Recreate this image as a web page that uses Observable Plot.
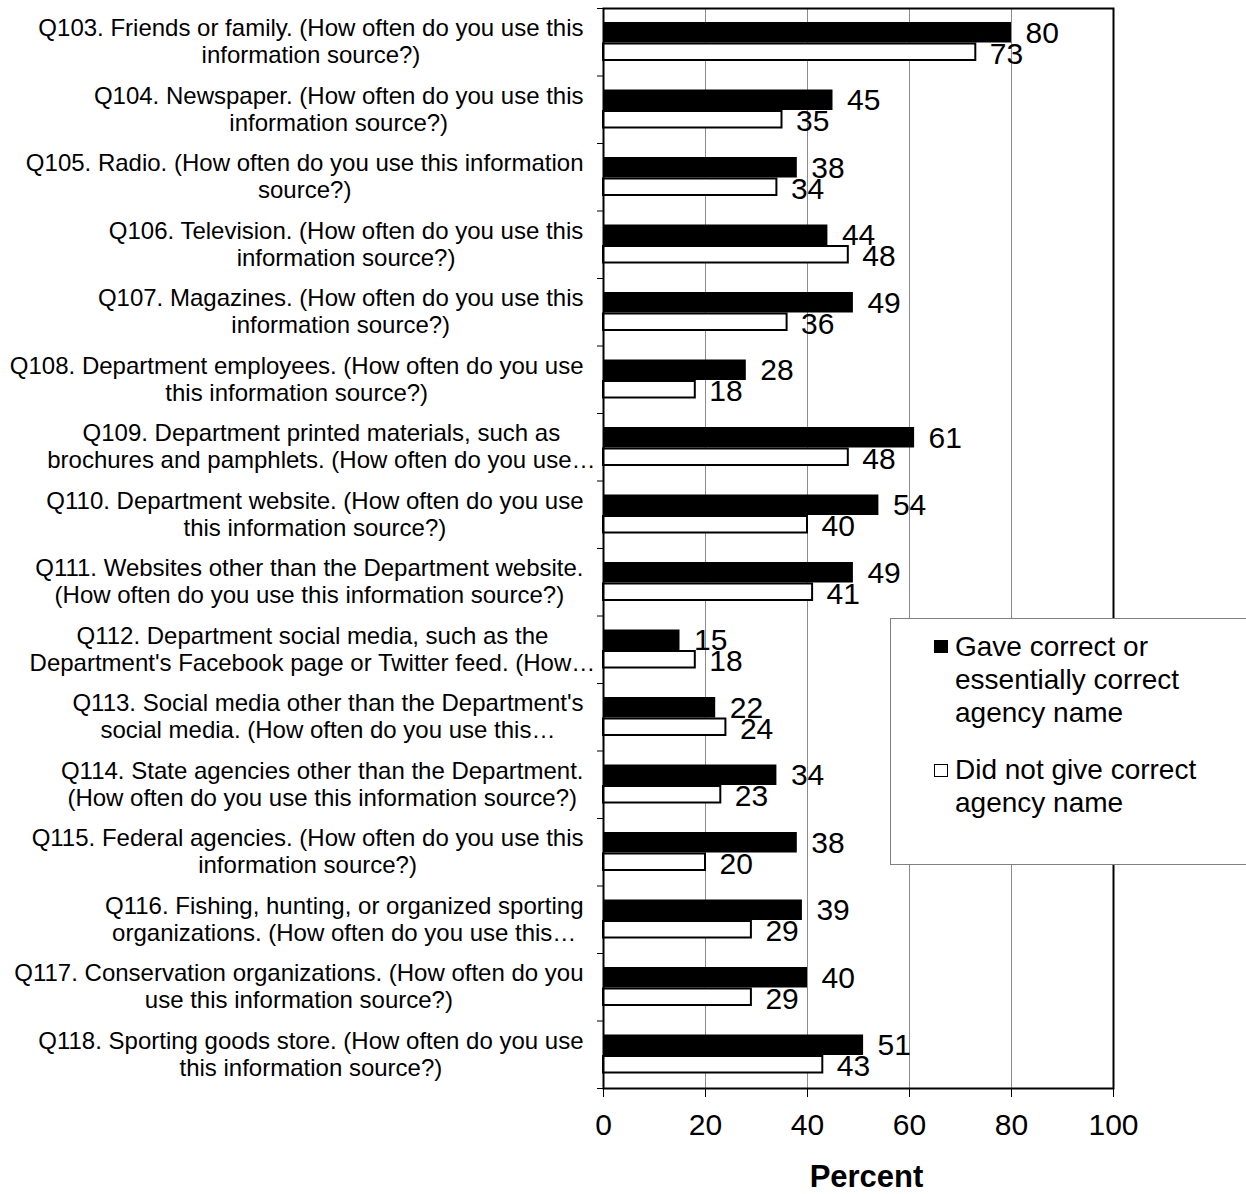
<!DOCTYPE html>
<html><head><meta charset="utf-8">
<script src="https://cdn.jsdelivr.net/npm/d3@7"></script>
<script src="https://cdn.jsdelivr.net/npm/@observablehq/plot@0.6"></script>
<style>
html,body{margin:0;padding:0;background:#fff;overflow:hidden}
#wrap{position:relative;width:1246px;height:1194px}
#legend{position:absolute;left:890px;top:618px;width:380px;height:247px;border:1px solid #7f7f7f;background:#fff;font-family:"Liberation Sans",Arial,sans-serif;font-size:28px;line-height:33px;color:#000;box-sizing:border-box}
.item{position:absolute;left:64px;width:262px}
.sw{position:absolute;left:-21px;top:10px;width:14px;height:13px;box-sizing:border-box}
</style></head><body><div id="wrap"></div>
<script>
const questions = [
  "Q103. Friends or family. (How often do you use this\ninformation source?)",
  "Q104. Newspaper. (How often do you use this\ninformation source?)",
  "Q105. Radio. (How often do you use this information\nsource?)",
  "Q106. Television. (How often do you use this\ninformation source?)",
  "Q107. Magazines. (How often do you use this\ninformation source?)",
  "Q108. Department employees. (How often do you use\nthis information source?)",
  "Q109. Department printed materials, such as\nbrochures and pamphlets. (How often do you use…",
  "Q110. Department website. (How often do you use\nthis information source?)",
  "Q111. Websites other than the Department website.\n(How often do you use this information source?)",
  "Q112. Department social media, such as the\nDepartment's Facebook page or Twitter feed. (How…",
  "Q113. Social media other than the Department's\nsocial media. (How often do you use this…",
  "Q114. State agencies other than the Department.\n(How often do you use this information source?)",
  "Q115. Federal agencies. (How often do you use this\ninformation source?)",
  "Q116. Fishing, hunting, or organized sporting\norganizations. (How often do you use this…",
  "Q117. Conservation organizations. (How often do you\nuse this information source?)",
  "Q118. Sporting goods store. (How often do you use\nthis information source?)"
];
const correct    = [80, 45, 38, 44, 49, 28, 61, 54, 49, 15, 22, 34, 38, 39, 40, 51];
const notCorrect = [73, 35, 34, 48, 36, 18, 48, 40, 41, 18, 24, 23, 20, 29, 29, 43];
const seriesNames = ["Gave correct or essentially correct agency name", "Did not give correct agency name"];
const xTicks = [0, 20, 40, 60, 80, 100];
const gridTicks = [20, 40, 60, 80];
const xLabel = "Percent";

const rows = questions.map((q, i) => ({q, correct: correct[i], not: notCorrect[i]}));
const W = 1246, H = 1194, mL = 603, mR = 133, mT = 8, mB = 106;
const n = questions.length;
const band = (H - mT - mB) / n;
const tickLen = 6 * 100 / (W - mL - mR);

const labelFont = 24, labelLH = 27 / 24;
const ctx = document.createElement("canvas").getContext("2d");
ctx.font = `${labelFont}px "Liberation Sans"`;
const labelMarks = questions.map(q => {
  const lines = q.split("\n");
  const w = Math.max(...lines.map(l => ctx.measureText(l.replace("…", "")).width));
  return Plot.text([q], {y: d => d, text: d => d, frameAnchor: "left", textAnchor: "middle",
    dx: -(20 + w / 2), dy: -1, fontSize: labelFont, lineHeight: labelLH, fill: "#000"});
});

const chart = Plot.plot({
  width: W, height: H,
  marginLeft: mL, marginRight: mR, marginTop: mT, marginBottom: mB,
  style: {fontFamily: "'Liberation Sans', Arial, sans-serif", fontSize: "30px", color: "#000", background: "#fff", overflow: "visible"},
  x: {domain: [0, 100]},
  y: {domain: questions, padding: 0, round: false, axis: null},
  marks: [
    Plot.ruleX(gridTicks, {stroke: "#8c8c8c", strokeWidth: 1}),
    Plot.barX(rows, {y: "q", x: "correct", fill: "#000", insetTop: 14, insetBottom: 33}),
    Plot.barX(rows, {y: "q", x: "not", fill: "#fff", stroke: "#000", strokeWidth: 2, insetTop: 35.5, insetBottom: 15.5}),
    Plot.text(rows, {y: "q", x: "correct", text: d => String(d.correct), textAnchor: "start", dx: 14, dy: -9, fontSize: 30, fill: "#000"}),
    Plot.text(rows, {y: "q", x: "not", text: d => String(d.not), textAnchor: "start", dx: 14, dy: 12, fontSize: 30, fill: "#000"}),
    Plot.ruleY(questions, {y: d => d, dy: -band / 2, x1: -tickLen, x2: 0, stroke: "#000", strokeWidth: 1}),
    Plot.ruleY([questions[n - 1]], {y: d => d, dy: band / 2, x1: -tickLen, x2: 0, stroke: "#000", strokeWidth: 1}),
    Plot.frame({stroke: "#000", strokeWidth: 2}),
    Plot.axisX({ticks: xTicks, tickSize: 9, tickPadding: 16, fontSize: 30, label: null, tickFormat: d => String(d)}),
    Plot.text([xLabel], {text: d => d, frameAnchor: "bottom", dy: 98, dx: 8, fontSize: 31, fontWeight: "bold", fill: "#000"}),
    ...labelMarks
  ]
});
const wrap = document.getElementById("wrap");
wrap.appendChild(chart);

const legend = document.createElement("div");
legend.id = "legend";
const tops = [11, 134];
seriesNames.forEach((name, i) => {
  const item = document.createElement("div");
  item.className = "item";
  item.style.top = tops[i] + "px";
  const sw = document.createElement("span");
  sw.className = "sw";
  if (i === 0) { sw.style.background = "#000"; }
  else { sw.style.background = "#fff"; sw.style.border = "1.5px solid #000"; sw.style.top = "11px"; }
  item.appendChild(sw);
  item.appendChild(document.createTextNode(name));
  legend.appendChild(item);
});
wrap.appendChild(legend);
</script>
</body></html>
